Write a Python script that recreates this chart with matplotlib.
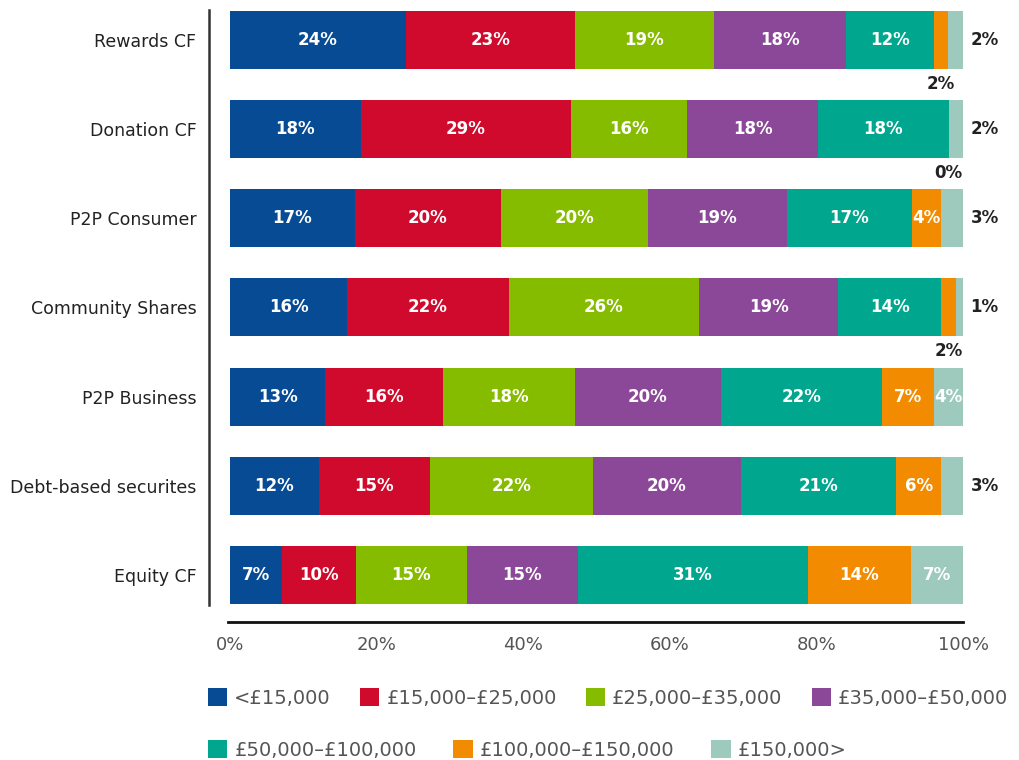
import matplotlib
matplotlib.use("Agg")
import matplotlib.pyplot as plt
from matplotlib.patches import Patch

platforms = ["Rewards CF", "Donation CF", "P2P Consumer", "Community Shares",
             "P2P Business", "Debt-based securites", "Equity CF"]
bands = ["<£15,000", "£15,000–£25,000", "£25,000–£35,000", "£35,000–£50,000",
         "£50,000–£100,000", "£100,000–£150,000", "£150,000>"]
colors = ["#064b94", "#cf0a2c", "#86bc00", "#8c4898", "#00a78e", "#f28b00", "#9dcabd"]

# share of respondents per income band (%), one list per band
under_15k = [24, 18, 17, 16, 13, 12, 7]
from_15k = [23, 29, 20, 22, 16, 15, 10]
from_25k = [19, 16, 20, 26, 18, 22, 15]
from_35k = [18, 18, 19, 19, 20, 20, 15]
from_50k = [12, 18, 17, 14, 22, 21, 31]
from_100k = [2, 0, 4, 2, 7, 6, 14]
over_150k = [2, 2, 3, 1, 4, 3, 7]
series = [under_15k, from_15k, from_25k, from_35k, from_50k, from_100k, over_150k]

x_ticks = [0, 20, 40, 60, 80, 100]
x_tick_labels = ["0%", "20%", "40%", "60%", "80%", "100%"]

fig = plt.figure(figsize=(10.19, 7.6), dpi=100)
ax = fig.add_axes([0.2051, 0.1816, 0.7436, 0.8053])

bar_h = 0.65
n_rows = len(platforms)
ypos = list(range(n_rows))
totals = [sum(s[i] for s in series) for i in range(n_rows)]
left = [0.0] * n_rows

for j, (vals, col) in enumerate(zip(series, colors)):
    widths = [v * 100.0 / t for v, t in zip(vals, totals)]
    ax.barh(ypos, widths, left=left, height=bar_h, color=col, edgecolor="none")
    for i, (v, w) in enumerate(zip(vals, widths)):
        cx = left[i] + w / 2
        if v >= 4:
            ax.text(cx, i, f"{v}%", ha="center", va="center", color="white",
                    fontsize=12, fontweight="bold")
        elif j == len(series) - 1:
            # small last segment: label to the right of the bar
            ax.text(101, i, f"{v}%", ha="left", va="center", color="#222222",
                    fontsize=12, fontweight="bold", clip_on=False)
        else:
            # small segment inside: label under the bar
            ax.text(cx, i + 0.49, f"{v}%", ha="center", va="center", color="#222222",
                    fontsize=12, fontweight="bold", clip_on=False)
    left = [l + w for l, w in zip(left, widths)]

ax.set_xlim(-2.86, 100.5)
ax.set_ylim(6.527, -0.336)
ax.set_yticks(ypos)
ax.set_yticklabels(platforms, fontsize=12.5, color="#222222")
ax.set_xticks(x_ticks)
ax.set_xticklabels(x_tick_labels, fontsize=13, color="#555555")
ax.tick_params(axis="both", length=0)
ax.tick_params(axis="y", pad=9)
ax.tick_params(axis="x", pad=10)

for s in ["top", "right"]:
    ax.spines[s].set_visible(False)
ax.spines["left"].set_bounds(-0.336, 6.336)
ax.spines["left"].set_linewidth(1.8)
ax.spines["left"].set_color("#333333")
ax.spines["bottom"].set_bounds(-0.3, 100)
ax.spines["bottom"].set_linewidth(2)
ax.spines["bottom"].set_color("#111111")

handles = [Patch(facecolor=c, edgecolor="none", label=b) for b, c in zip(bands, colors)]
leg_kw = dict(frameon=False, fontsize=14, labelcolor="#555555", handlelength=1.0,
              handleheight=1.0, handletextpad=0.35, columnspacing=1.5,
              borderpad=0, borderaxespad=0, loc="center left")
leg1 = fig.legend(handles=handles[:4], ncol=4, bbox_to_anchor=(208 / 1019, 1 - 698 / 760), **leg_kw)
leg2 = fig.legend(handles=handles[4:], ncol=3, bbox_to_anchor=(208 / 1019, 1 - 750 / 760),
                  **{**leg_kw, "columnspacing": 1.9})

fig.savefig("out.png", dpi=100)
